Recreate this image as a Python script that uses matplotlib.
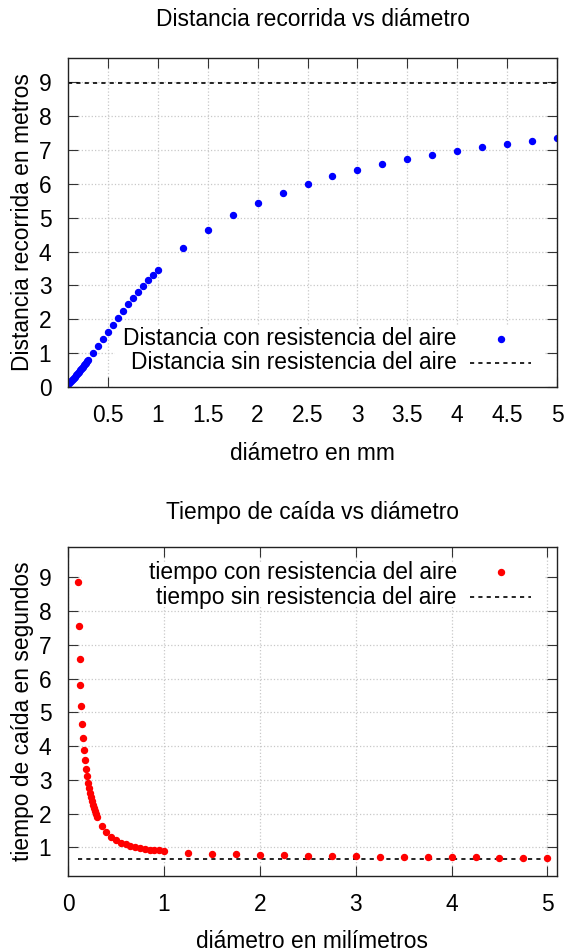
import matplotlib
matplotlib.use("Agg")
import matplotlib.pyplot as plt
from matplotlib.patches import Rectangle
import numpy as np

plt.rcParams['font.family'] = ['Liberation Sans', 'DejaVu Sans']

# --- datos ---
diam_fino = [0.10, 0.11, 0.12, 0.13, 0.14, 0.15, 0.16, 0.17, 0.18, 0.19, 0.20,
             0.21, 0.22, 0.23, 0.24, 0.25, 0.26, 0.27, 0.28, 0.29, 0.30]
diam_medio = [0.35, 0.40, 0.45, 0.50, 0.55, 0.60, 0.65, 0.70, 0.75, 0.80, 0.85,
              0.90, 0.95, 1.00]
diam_grueso = [1.25, 1.50, 1.75, 2.00, 2.25, 2.50, 2.75, 3.00, 3.25, 3.50, 3.75,
               4.00, 4.25, 4.50, 4.75, 5.00]

dist_fino = [0.10, 0.13, 0.16, 0.19, 0.22, 0.25, 0.28, 0.31, 0.35, 0.38, 0.42,
             0.45, 0.49, 0.52, 0.56, 0.60, 0.64, 0.68, 0.72, 0.76, 0.80]
dist_medio = [1.00, 1.21, 1.42, 1.63, 1.84, 2.04, 2.25, 2.44, 2.63, 2.81, 2.98,
              3.15, 3.30, 3.46]
dist_grueso = [4.11, 4.64, 5.08, 5.43, 5.74, 5.99, 6.22, 6.41, 6.58, 6.73, 6.85,
               6.97, 7.08, 7.18, 7.27, 7.35]
dist_sin_aire = 8.97

tiempo_fino = [8.86, 7.57, 6.58, 5.80, 5.18, 4.66, 4.24, 3.89, 3.59, 3.32, 3.10,
               2.92, 2.76, 2.61, 2.48, 2.37, 2.26, 2.16, 2.07, 1.99, 1.91]
tiempo_medio = [1.64, 1.46, 1.31, 1.21, 1.14, 1.09, 1.04, 1.01, 0.98, 0.95, 0.93,
                0.92, 0.91, 0.89]
tiempo_grueso = [0.84, 0.81, 0.79, 0.77, 0.76, 0.75, 0.74, 0.73, 0.72, 0.715, 0.71,
                 0.705, 0.70, 0.695, 0.69, 0.69]
tiempo_sin_aire = 0.64

diametros = diam_fino + diam_medio + diam_grueso
distancias = dist_fino + dist_medio + dist_grueso
tiempos = tiempo_fino + tiempo_medio + tiempo_grueso

FS = 16.4
fig = plt.figure(figsize=(5.65, 9.52), dpi=100)
W, H = 565, 952


def caja(x0, y0, x1, y1):
    return [x0 / W, 1 - y1 / H, (x1 - x0) / W, (y1 - y0) / H]


def estilo(ax):
    ax.set_axisbelow(True)
    ax.grid(True, color='#c8c8c8', linestyle=':', linewidth=0.9)
    ax.tick_params(direction='in', length=7, width=0.8, top=True, right=True,
                   labelsize=FS, color='#333333')
    ax.tick_params(axis='x', pad=12)
    ax.tick_params(axis='y', pad=12)
    for s in ax.spines.values():
        s.set_linewidth(1.0)
        s.set_color('#222222')


def leyenda(ax, filas, color, x0, y0, x1, y1):
    ax.add_patch(Rectangle((x0, y0), x1 - x0, y1 - y0, transform=ax.transAxes,
                           facecolor='white', edgecolor='none', zorder=1.5))
    (t1, y_1), (t2, y_2) = filas
    ax.text(0.795, y_1, t1, transform=ax.transAxes, ha='right', va='center',
            fontsize=FS, zorder=3)
    ax.text(0.795, y_2, t2, transform=ax.transAxes, ha='right', va='center',
            fontsize=FS, zorder=3)
    ax.plot([0.885], [y_1], 'o', color=color, ms=4.3, transform=ax.transAxes,
            zorder=3, clip_on=False)
    ax.plot([0.822, 0.947], [y_2, y_2], color='black', lw=1.2, dashes=(2.5, 2.5),
            transform=ax.transAxes, zorder=3)


# --- grafico 1: distancia ---
ax1 = fig.add_axes(caja(68, 58, 557, 387))
estilo(ax1)
ax1.plot([diametros[0], diametros[-1]], [dist_sin_aire, dist_sin_aire], color='black',
         lw=1.2, dashes=(2.5, 2.5), zorder=2)
ax1.plot(diametros, distancias, 'o', color='#0000ff', ms=4.3, zorder=2.5)
ax1.set_xlim(0.1, 5.0)
ax1.set_ylim(0, 9.72)
ax1.set_xticks([0.5, 1, 1.5, 2, 2.5, 3, 3.5, 4, 4.5, 5])
ax1.set_xticklabels(['0.5', '1', '1.5', '2', '2.5', '3', '3.5', '4', '4.5', '5'])
ax1.set_yticks(range(0, 10))
ax1.set_xlabel('diámetro en mm', fontsize=FS, labelpad=11)
ax1.set_ylabel('Distancia recorrida en metros', fontsize=FS, labelpad=3)
fig.text(312.5 / W, 1 - 20 / H, 'Distancia recorrida vs diámetro', fontsize=FS,
         ha='center', va='center')
leyenda(ax1, [('Distancia con resistencia del aire', 0.146),
              ('Distancia sin resistencia del aire', 0.073)],
        '#0000ff', 0.096, 0.0, 0.975, 0.188)

# --- grafico 2: tiempo ---
ax2 = fig.add_axes(caja(68, 547, 557, 876))
estilo(ax2)
ax2.plot([diametros[0], diametros[-1]], [tiempo_sin_aire, tiempo_sin_aire],
         color='black', lw=1.2, dashes=(2.5, 2.5), zorder=2)
ax2.plot(diametros, tiempos, 'o', color='#ff0000', ms=4.3, zorder=2.5)
ax2.set_xlim(0, 5.1)
ax2.set_ylim(0.15, 9.9)
ax2.set_xticks(range(0, 6))
ax2.set_yticks(range(1, 10))
ax2.set_xlabel('diámetro en milímetros', fontsize=FS, labelpad=10)
ax2.set_ylabel('tiempo de caída en segundos', fontsize=FS, labelpad=3)
fig.text(312.5 / W, 1 - 512 / H, 'Tiempo de caída vs diámetro', fontsize=FS,
         ha='center', va='center')
leyenda(ax2, [('tiempo con resistencia del aire', 0.924),
              ('tiempo sin resistencia del aire', 0.848)],
        '#ff0000', 0.029, 0.818, 0.975, 0.951)

fig.savefig('out.png', dpi=100)
